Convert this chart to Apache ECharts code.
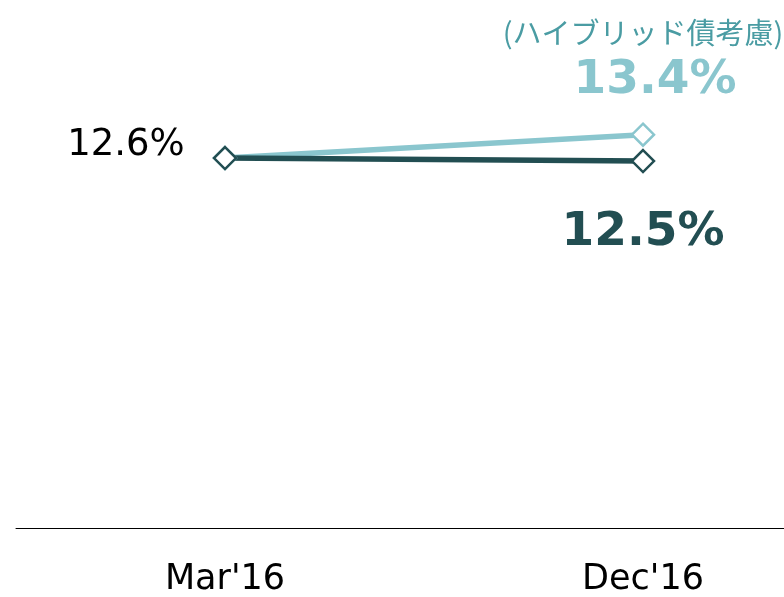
<!DOCTYPE html>
<html>
<head>
    <meta charset="utf-8">
    <title>chart</title>
    <script src="https://cdn.jsdelivr.net/npm/echarts@6/dist/echarts.min.js"></script>
    <style>
        html, body { margin: 0; padding: 0; background: #fff; }
        #main { width: 784px; height: 597px; }
    </style>
</head>
<body>
<div id="main"></div>
<script>
    // data
    var categories = ["Mar'16", "Dec'16"];
    var ratioHybrid = [12.6, 13.4];   // ハイブリッド債考慮
    var ratio = [12.6, 12.5];
    var hybridNote = '(ハイブリッド債考慮)';

    var darkColor = '#224e52';
    var lightColor = '#8ac6ce';
    var noteColor = '#4a9ca3';

    var chart = echarts.init(document.getElementById('main'));

    var lightData = ratioHybrid.map(function (v, i) {
        var d = { value: v };
        if (i === ratioHybrid.length - 1) {
            d.label = {
                show: true,
                position: 'top',
                distance: 17,
                formatter: '{n|' + hybridNote + '}\n{v|' + v.toFixed(1) + '%}',
                rich: {
                    n: { fontFamily: 'Noto Sans CJK JP', fontSize: 29, color: noteColor, lineHeight: 44 },
                    v: { fontFamily: 'DejaVu Sans', fontSize: 47, fontWeight: 'bold', color: lightColor, lineHeight: 50, padding: [0, 0, 0, 24] }
                }
            };
        }
        return d;
    });

    var darkData = ratio.map(function (v, i) {
        var d = { value: v };
        if (i === 0) {
            d.label = {
                show: true, position: 'left', distance: 28, offset: [0, -13],
                formatter: v.toFixed(1) + '%',
                fontFamily: 'DejaVu Sans', fontSize: 37, color: '#000'
            };
        } else {
            d.label = {
                show: true, position: 'bottom', distance: 36,
                formatter: v.toFixed(1) + '%',
                fontFamily: 'DejaVu Sans', fontSize: 47, fontWeight: 'bold', color: darkColor
            };
        }
        return d;
    });

    var option = {
        animation: false,
        grid: [
            { left: 225, right: 141, top: 0, bottom: 69 },
            { left: 16, right: 0, top: 0, bottom: 69 }
        ],
        xAxis: [{
            type: 'category',
            gridIndex: 0,
            data: categories,
            boundaryGap: false,
            axisLine: { show: false },
            axisTick: { show: false },
            axisLabel: { fontFamily: 'DejaVu Sans', fontSize: 35, color: '#000', margin: 35 }
        }, {
            type: 'value',
            gridIndex: 1,
            axisLine: { show: true, onZero: false, lineStyle: { color: '#000', width: 1 } },
            axisTick: { show: false },
            axisLabel: { show: false },
            splitLine: { show: false }
        }],
        yAxis: [{
            type: 'value', gridIndex: 0, min: 0, max: 18, show: false
        }, {
            type: 'value', gridIndex: 1, show: false
        }],
        series: [{
            type: 'line',
            data: lightData,
            symbol: 'diamond',
            symbolSize: 22,
            lineStyle: { color: lightColor, width: 5.5 },
            itemStyle: { color: '#fff', borderColor: lightColor, borderWidth: 2.5 },
            label: { show: false }
        }, {
            type: 'line',
            data: darkData,
            symbol: 'diamond',
            symbolSize: 22,
            lineStyle: { color: darkColor, width: 5.5 },
            itemStyle: { color: '#fff', borderColor: darkColor, borderWidth: 2.5 },
            label: { show: false }
        }]
    };
    chart.setOption(option);
</script>
</body>
</html>
